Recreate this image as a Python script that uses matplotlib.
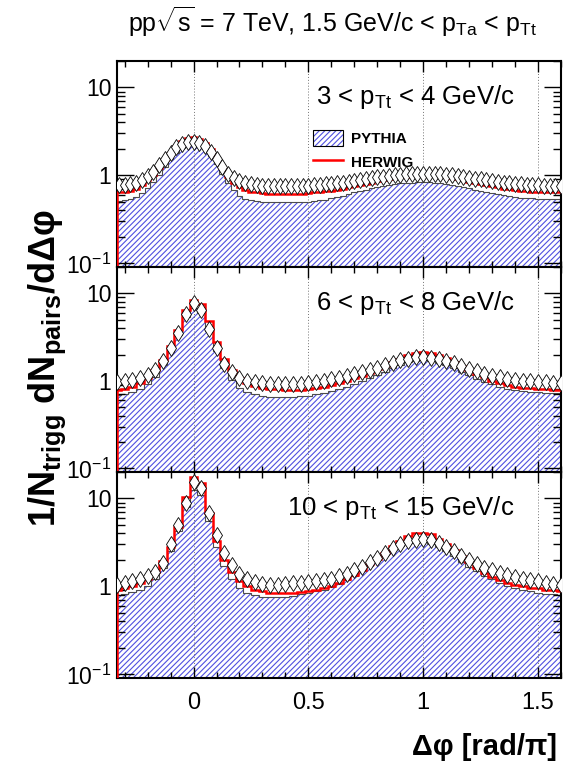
import numpy as np
import matplotlib
matplotlib.use("Agg")
import matplotlib.pyplot as plt
from matplotlib.patches import Patch
from matplotlib.lines import Line2D
from matplotlib.legend_handler import HandlerTuple
from matplotlib.ticker import FixedLocator, LogLocator, MultipleLocator, NullFormatter

plt.rcParams['font.family'] = ['Liberation Sans', 'DejaVu Sans']
plt.rcParams['mathtext.fontset'] = 'custom'
plt.rcParams['mathtext.rm'] = 'Liberation Sans'
plt.rcParams['mathtext.it'] = 'Liberation Sans:italic'
plt.rcParams['mathtext.bf'] = 'Liberation Sans:bold'
plt.rcParams['mathtext.default'] = 'regular'
plt.rcParams['hatch.linewidth'] = 0.8

# ---------------- data ----------------
# panel 1: 3 < pTt < 4 GeV/c (fine binning, width 1/40 in units of pi)
width_low = 1 / 40
dphi_low = np.arange(-13, 65) * width_low
data_low = [0.78, 0.78, 0.79, 0.82, 0.88, 0.98, 1.10, 1.30, 1.55, 1.82, 2.08, 2.28, 2.40,
            2.43, 2.36, 2.15, 1.85, 1.55, 1.25, 1.04, 0.93, 0.86, 0.81, 0.79, 0.77, 0.76,
            0.75, 0.75, 0.75, 0.75, 0.75, 0.75, 0.76, 0.76, 0.77, 0.78, 0.79, 0.80, 0.81,
            0.83, 0.85, 0.87, 0.89, 0.91, 0.93, 0.95, 0.97, 0.99, 1.00, 1.02, 1.03, 1.04,
            1.05, 1.05, 1.05, 1.04, 1.03, 1.02, 1.00, 0.98, 0.96, 0.94, 0.92, 0.90, 0.88,
            0.86, 0.84, 0.83, 0.81, 0.80, 0.79, 0.78, 0.77, 0.77, 0.76, 0.76, 0.76, 0.76]
herwig_low = [0.64, 0.65, 0.67, 0.71, 0.78, 0.88, 1.02, 1.22, 1.48, 1.80, 2.15, 2.45, 2.65,
              2.72, 2.62, 2.35, 1.98, 1.58, 1.22, 0.97, 0.82, 0.73, 0.68, 0.65, 0.64, 0.63,
              0.62, 0.62, 0.62, 0.62, 0.62, 0.62, 0.62, 0.63, 0.64, 0.65, 0.66, 0.67, 0.69,
              0.71, 0.73, 0.75, 0.78, 0.80, 0.83, 0.86, 0.89, 0.91, 0.93, 0.95, 0.97, 0.98,
              0.99, 1.00, 0.99, 0.98, 0.97, 0.95, 0.93, 0.90, 0.88, 0.85, 0.82, 0.80, 0.77,
              0.75, 0.73, 0.71, 0.70, 0.68, 0.67, 0.66, 0.65, 0.65, 0.64, 0.64, 0.64, 0.64]
pythia_low = [0.51, 0.52, 0.54, 0.57, 0.63, 0.72, 0.85, 1.02, 1.25, 1.52, 1.80, 2.05, 2.20,
              2.25, 2.18, 1.98, 1.68, 1.35, 1.05, 0.83, 0.68, 0.59, 0.54, 0.52, 0.51, 0.50,
              0.50, 0.50, 0.50, 0.50, 0.50, 0.50, 0.50, 0.50, 0.51, 0.52, 0.53, 0.55, 0.57,
              0.59, 0.62, 0.64, 0.67, 0.69, 0.72, 0.74, 0.76, 0.78, 0.80, 0.81, 0.82, 0.83,
              0.84, 0.84, 0.84, 0.83, 0.82, 0.80, 0.78, 0.76, 0.74, 0.72, 0.69, 0.67, 0.65,
              0.63, 0.61, 0.60, 0.58, 0.57, 0.56, 0.55, 0.55, 0.54, 0.54, 0.54, 0.54, 0.54]

# panels 2 and 3: bin width 1/30 in units of pi
width_high = 1 / 30
dphi_high = np.arange(-10, 49) * width_high

data_mid = [0.98, 1.00, 1.03, 1.08, 1.16, 1.32, 1.68, 2.35, 3.5, 5.8, 7.7, 6.4, 3.9, 2.4,
            1.55, 1.25, 1.08, 1.01, 0.97, 0.94, 0.92, 0.91, 0.91, 0.91, 0.92, 0.94, 0.97,
            1.00, 1.04, 1.09, 1.15, 1.21, 1.27, 1.34, 1.42, 1.52, 1.62, 1.72, 1.80, 1.85,
            1.87, 1.84, 1.77, 1.68, 1.58, 1.48, 1.38, 1.29, 1.21, 1.15, 1.10, 1.06, 1.03,
            1.01, 0.99, 0.97, 0.96, 0.95, 0.95]
herwig_mid = [0.78, 0.81, 0.86, 0.94, 1.08, 1.32, 1.75, 2.5, 3.8, 6.4, 8.3, 7.6, 4.8, 2.8,
              1.80, 1.32, 1.08, 0.95, 0.88, 0.84, 0.81, 0.80, 0.79, 0.79, 0.79, 0.80, 0.82,
              0.85, 0.89, 0.94, 1.00, 1.07, 1.15, 1.24, 1.35, 1.48, 1.63, 1.80, 1.96, 2.08,
              2.14, 2.10, 1.98, 1.82, 1.64, 1.48, 1.34, 1.21, 1.10, 1.01, 0.94, 0.89, 0.86,
              0.84, 0.82, 0.81, 0.80, 0.79, 0.79]
pythia_mid = [0.69, 0.71, 0.74, 0.80, 0.92, 1.12, 1.50, 2.15, 3.3, 5.4, 6.8, 6.0, 3.7, 2.2,
              1.40, 1.02, 0.84, 0.75, 0.70, 0.68, 0.66, 0.66, 0.66, 0.66, 0.67, 0.68, 0.70,
              0.73, 0.77, 0.81, 0.86, 0.92, 0.99, 1.07, 1.16, 1.27, 1.39, 1.52, 1.63, 1.70,
              1.73, 1.70, 1.62, 1.51, 1.39, 1.27, 1.16, 1.06, 0.98, 0.91, 0.85, 0.81, 0.78,
              0.76, 0.75, 0.74, 0.73, 0.73, 0.73]

data_hi = [1.05, 1.10, 1.16, 1.22, 1.30, 1.45, 1.85, 3.0, 5.0, 9.0, 15.5, 13.0, 6.8, 3.8,
           2.4, 1.75, 1.40, 1.22, 1.12, 1.07, 1.05, 1.05, 1.06, 1.08, 1.10, 1.12, 1.14,
           1.17, 1.22, 1.30, 1.40, 1.52, 1.68, 1.88, 2.10, 2.40, 2.70, 3.00, 3.25, 3.40,
           3.45, 3.35, 3.10, 2.80, 2.50, 2.20, 1.98, 1.80, 1.64, 1.52, 1.42, 1.34, 1.28,
           1.22, 1.18, 1.14, 1.10, 1.07, 1.05]
herwig_hi = [0.92, 0.97, 1.02, 1.08, 1.20, 1.45, 1.95, 2.8, 4.8, 10.5, 17.5, 15.0, 6.9, 3.3,
             2.0, 1.45, 1.15, 1.00, 0.92, 0.88, 0.85, 0.84, 0.84, 0.85, 0.87, 0.89, 0.92,
             0.96, 1.02, 1.10, 1.22, 1.36, 1.55, 1.78, 2.05, 2.40, 2.85, 3.30, 3.75, 4.05,
             4.10, 3.90, 3.50, 3.05, 2.60, 2.20, 1.88, 1.62, 1.42, 1.28, 1.18, 1.10, 1.04,
             1.00, 0.97, 0.95, 0.92, 0.90, 0.88]
pythia_hi = [0.79, 0.82, 0.86, 0.92, 1.02, 1.22, 1.60, 2.5, 4.3, 8.0, 12.5, 11.0, 5.5, 2.8,
             1.70, 1.20, 0.97, 0.85, 0.79, 0.76, 0.75, 0.75, 0.76, 0.78, 0.81, 0.85, 0.88,
             0.92, 0.98, 1.06, 1.17, 1.32, 1.50, 1.72, 1.98, 2.28, 2.60, 2.90, 3.10, 3.20,
             3.20, 3.05, 2.80, 2.50, 2.20, 1.92, 1.68, 1.48, 1.32, 1.20, 1.10, 1.02, 0.96,
             0.92, 0.88, 0.84, 0.82, 0.81, 0.80]

panel_labels = [r'3 < p$_{Tt}$ < 4 GeV/c', r'6 < p$_{Tt}$ < 8 GeV/c',
                r'10 < p$_{Tt}$ < 15 GeV/c']
xtick_values = [0, 0.5, 1, 1.5]
xtick_labels = ['0', '0.5', '1', '1.5']
ytick_values = [0.1, 1, 10]
ytick_labels = [r'10$^{-1}$', '1', '10']

XMIN, XMAX = -1 / 3, 1.6
YMIN, YMAX = 0.091, 20
HATCH_COLOR = '#5050e0'
HATCH = '//////'

# ---------------- figure ----------------
fig = plt.figure(figsize=(5.64, 7.68), dpi=100)
W, H = 564, 768
left, right = 117, 561
tops = [61, 267, 472]
bottoms = [267, 472, 678]

panels = [
    (dphi_low, width_low, data_low, herwig_low, pythia_low),
    (dphi_high, width_high, data_mid, herwig_mid, pythia_mid),
    (dphi_high, width_high, data_hi, herwig_hi, pythia_hi),
]

axes = []
for i, (centers, w, dat, her, pyt) in enumerate(panels):
    ax = fig.add_axes([left / W, 1 - bottoms[i] / H, (right - left) / W,
                       (bottoms[i] - tops[i]) / H])
    axes.append(ax)
    edges = np.concatenate([centers - w / 2, [centers[-1] + w / 2]])
    edges = np.maximum(edges, XMIN)
    ax.stairs(pyt, edges, baseline=1e-3, fill=True, facecolor='white',
              edgecolor=HATCH_COLOR, hatch=HATCH, lw=0, zorder=1)
    ax.stairs(pyt, edges, baseline=None, color='0.3', lw=0.8, zorder=2)
    ax.stairs(her, edges, baseline=1e-3, color='red', lw=1.8, zorder=3)
    ax.plot(centers, dat, ls='none', marker='d', ms=8, mfc='white', mec='black',
            mew=0.6, zorder=4)

    ax.set_xlim(XMIN, XMAX)
    ax.set_yscale('log')
    ax.set_ylim(YMIN, YMAX)
    ax.xaxis.set_major_locator(FixedLocator(xtick_values))
    ax.xaxis.set_minor_locator(MultipleLocator(0.1))
    ax.yaxis.set_major_locator(FixedLocator(ytick_values))
    ax.yaxis.set_minor_locator(LogLocator(base=10, subs=np.arange(2, 10)))
    ax.yaxis.set_minor_formatter(NullFormatter())
    ax.set_yticklabels(ytick_labels, fontsize=16.5)
    if i == 2:
        ax.set_xticklabels(xtick_labels, fontsize=17)
    else:
        ax.set_xticklabels([])
    ax.tick_params(which='both', direction='in', top=True, right=True)
    ax.tick_params(axis='x', which='major', length=8, width=1, pad=10)
    ax.tick_params(axis='x', which='minor', length=4, width=1)
    ax.tick_params(axis='y', which='major', length=12, width=1, pad=4)
    ax.tick_params(axis='y', which='minor', length=6, width=1)
    ax.grid(axis='x', which='major', ls=(0, (1, 2)), color='0.45', lw=0.7)
    ax.set_axisbelow(False)
    for sp in ax.spines.values():
        sp.set_linewidth(1.5)
    ax.text(0.896, 0.825, panel_labels[i], transform=ax.transAxes, ha='right',
            va='center', fontsize=18.5, zorder=6)

# legend in first panel
hatch_patch = Patch(facecolor='white', edgecolor=HATCH_COLOR, hatch=HATCH, lw=0)
border_patch = Patch(facecolor='none', edgecolor='black', lw=0.8)
red_line = Line2D([], [], color='red', lw=1.8)
axes[0].legend(handles=[(hatch_patch, border_patch), red_line],
               labels=['PYTHIA', 'HERWIG'],
               handler_map={tuple: HandlerTuple(ndivide=1, pad=0)},
               loc='upper left', bbox_to_anchor=(0.441, 0.665), frameon=False,
               prop=dict(weight='bold', size=11), handlelength=2.0,
               handleheight=1.2, handletextpad=0.5, labelspacing=0.5,
               borderaxespad=0, borderpad=0)

fig.text(128 / W, 1 - 22 / H,
         r'pp$\sqrt{s}$ = 7 TeV, 1.5 GeV/c < p$_{Ta}$ < p$_{Tt}$',
         ha='left', va='center', fontsize=18)
fig.text(47 / W, 1 - 368 / H, r'1/N$_{trigg}$ dN$_{pairs}$/dΔφ', rotation=90,
         ha='center', va='center', fontsize=26, fontweight='bold')
fig.text(557 / W, 1 - 747 / H, 'Δφ [rad/π]', ha='right', va='center',
         fontsize=21, fontweight='bold')

fig.savefig('out.png', dpi=100)
